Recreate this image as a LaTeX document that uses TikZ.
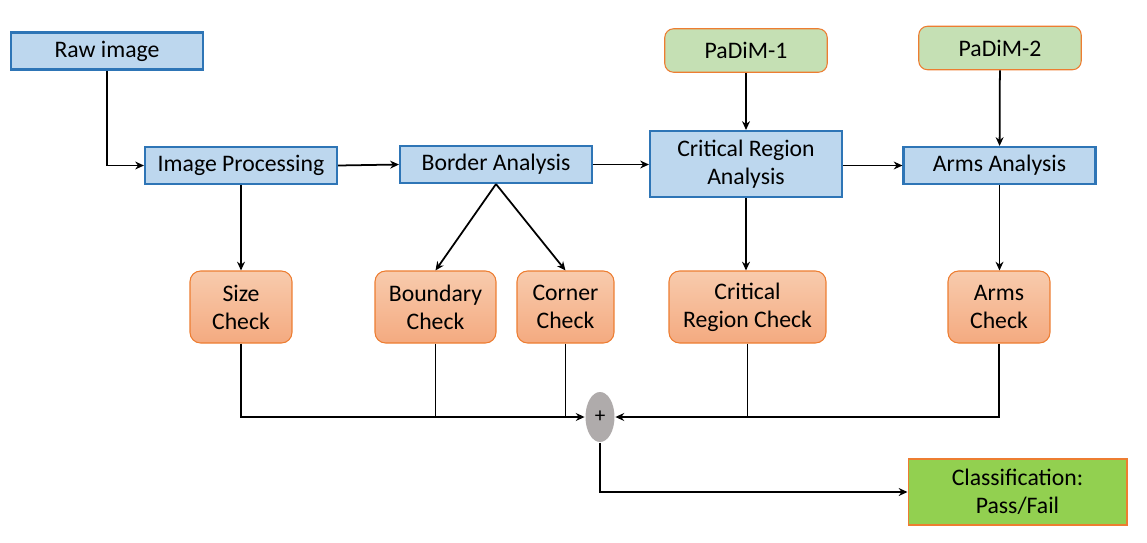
\documentclass[tikz,border=0pt]{standalone}
\usepackage{fontspec}
\setmainfont{Carlito}
\usepackage{tikz}
\usetikzlibrary{positioning, arrows.meta, shapes.geometric}

\definecolor{procfill}{HTML}{BDD7EE}
\definecolor{procline}{HTML}{2E75B6}
\definecolor{chktop}{HTML}{F8CBAD}
\definecolor{chkbot}{HTML}{F4AA80}
\definecolor{chkline}{HTML}{ED7D31}
\definecolor{modfill}{HTML}{C5E0B4}
\definecolor{resfill}{HTML}{92D050}
\definecolor{sumfill}{HTML}{AFABAB}

\begin{document}
\begin{tikzpicture}[x=0.02cm, y=-0.02cm, >={Stealth[length=5pt,width=4.5pt]}, line width=1pt,
      every node/.style={font=\fontsize{13.5}{16}\selectfont, align=center, inner sep=1pt},
      proc/.style={rectangle, draw=procline, fill=procfill, line width=1.2pt, minimum width=3.84cm, minimum height=0.74cm},
      check/.style={rectangle, rounded corners=6pt, draw=chkline, top color=chktop, bottom color=chkbot, line width=0.6pt, minimum height=1.44cm},
      model/.style={rectangle, rounded corners=5pt, draw=chkline, fill=modfill, line width=0.6pt, minimum width=3.25cm, minimum height=0.87cm},
      result/.style={rectangle, draw=chkline, fill=resfill, line width=0.6pt, minimum width=4.38cm, minimum height=1.32cm},
      plus/.style={ellipse, fill=sumfill, minimum width=0.58cm, minimum height=1cm, inner sep=0pt}]

      \useasboundingbox (0,0) rectangle (1147,542);

      % main pipeline
      \node[proc] (raw) at (107,51) {Raw image};
      \node[proc] (imgproc) at (241,165.5) {Image Processing};
      \node[proc] (border) at (496,164.5) {Border Analysis};
      \node[proc, minimum height=1.32cm] (critical) at (746,164) {Critical Region\\Analysis};
      \node[proc] (arms) at (999.5,165.5) {Arms Analysis};

      % models
      \node[model] (padim1) at (746,50.5) {PaDiM-1};
      \node[model] (padim2) at (1000,48) {PaDiM-2};

      % checks
      \node[check, minimum width=2.04cm] (size) at (241,307) {Size\\Check};
      \node[check, minimum width=2.42cm] (boundary) at (435.5,307) {Boundary\\Check};
      \node[check, minimum width=1.94cm] (corner) at (565.5,307) {Corner\\Check};
      \node[check, minimum width=3.14cm] (critcheck) at (747.5,307) {Critical\\Region Check};
      \node[check, minimum width=2.04cm] (armscheck) at (999,307) {Arms\\Check};

      % combination and result
      \node[plus] (sum) at (600,417) {\fontsize{12}{14}\selectfont +};
      \node[result] (classif) at (1017.5,492) {Classification:\\Pass/Fail};

      % connectors
      \draw[->] (raw.south) |- (imgproc.west);
      \draw[->] (imgproc.east) -- (border.west);
      \draw[->] (border.east) -- (border.east -| critical.west);
      \draw[->] (critical.east |- arms.west) -- (arms.west);
      \draw[->] (padim1) -- (critical);
      \draw[->] (padim2) -- (arms);
      \draw[->] (imgproc) -- (size);
      \draw[->] (border.south) -- (boundary.north);
      \draw[->] (border.south) -- (corner.north);
      \draw[->] (critical) -- (critical |- critcheck.north);
      \draw[->] (arms) -- (arms |- armscheck.north);

      \draw[->] (size.south) |- (sum.west);
      \draw (boundary.south) -- (boundary.south |- sum.west);
      \draw (corner.south) -- (corner.south |- sum.west);
      \draw[->] (critcheck.south) |- (sum.east);
      \draw (armscheck.south) |- (critcheck.south |- sum.east);
      \draw[->] (sum.south) |- (classif.west);
    \end{tikzpicture}
\end{document}
